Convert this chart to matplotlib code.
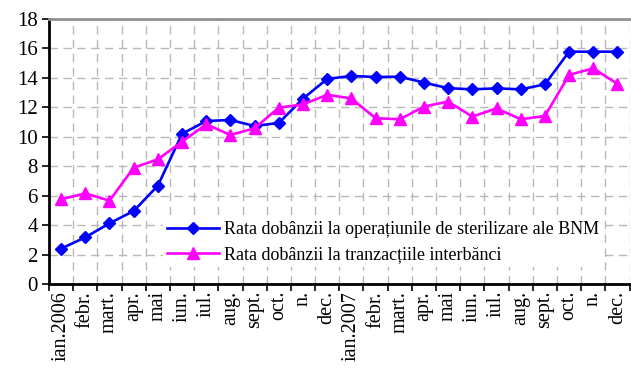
import matplotlib
matplotlib.use("Agg")
import matplotlib.pyplot as plt

# luni ianuarie 2006 - decembrie 2007
luni = ["ian.2006", "febr.", "mart.", "apr.", "mai", "iun.", "iul.", "aug.",
        "sept.", "oct.", "n.", "dec.",
        "ian.2007", "febr.", "mart.", "apr.", "mai", "iun.", "iul.", "aug.",
        "sept.", "oct.", "n.", "dec."]

rata_bnm = [2.4, 3.17, 4.12, 4.96, 6.68, 10.2, 11.07, 11.14, 10.73, 10.94, 12.59, 13.93,
            14.13, 14.06, 14.08, 13.68, 13.3, 13.22, 13.29, 13.22, 13.56, 15.78, 15.78, 15.78]
rata_interbanc = [5.75, 6.16, 5.66, 7.9, 8.47, 9.67, 10.85, 10.12, 10.58, 11.98, 12.2, 12.85,
                  12.6, 11.26, 11.19, 12.05, 12.39, 11.37, 11.93, 11.19, 11.41, 14.2, 14.65, 13.59]

plt.rcParams["font.family"] = ["Liberation Serif", "DejaVu Serif"]

fig = plt.figure(figsize=(6.31, 3.73), dpi=100)
ax = fig.add_axes([0.0777, 0.2386, 0.92, 0.7105])

x = list(range(len(luni)))
ax.plot(x, rata_bnm, color="#0000FF", lw=1.9, marker="D", ms=6.5,
        label="Rata dobânzii la operațiunile de sterilizare ale BNM", zorder=3)
ax.plot(x, rata_interbanc, color="#FF00FF", lw=1.9, marker="^", ms=9,
        label="Rata dobânzii la tranzacțiile interbănci", zorder=3)

ax.set_xlim(-0.5, len(luni) - 0.5)
ax.set_ylim(0, 18)
ax.set_yticks(range(0, 19, 2))
ax.tick_params(axis="y", labelsize=15, length=5, width=1.2, direction="out", pad=3)

# etichetele lunilor in centrul fiecarei celule, liniutele la granite
ax.set_xticks([i - 0.5 for i in range(len(luni) + 1)])
ax.set_xticklabels([])
ax.set_xticks(x, minor=True)
ax.set_xticklabels(luni, minor=True, rotation=90, fontsize=14.5)
ax.tick_params(axis="x", which="major", length=5, width=1.2)
ax.tick_params(axis="x", which="minor", length=0, pad=5)

ax.grid(True, which="major", color="#b8b8b8", ls=(0, (6, 4)), lw=1.0)
ax.set_axisbelow(True)

ax.spines["left"].set_linewidth(2)
ax.spines["bottom"].set_linewidth(2)
ax.spines["top"].set_color("#909090")
ax.spines["top"].set_linewidth(2)
ax.spines["right"].set_visible(False)

leg = ax.legend(loc="lower right", bbox_to_anchor=(0.97, 0.03), frameon=True,
                fontsize=13, handlelength=2.9, borderpad=0.2, labelspacing=0.45,
                handletextpad=0.3, fancybox=False)
leg.get_frame().set_edgecolor("none")
leg.get_frame().set_facecolor("white")
leg.get_frame().set_alpha(1)

fig.savefig("out.png", dpi=100)
